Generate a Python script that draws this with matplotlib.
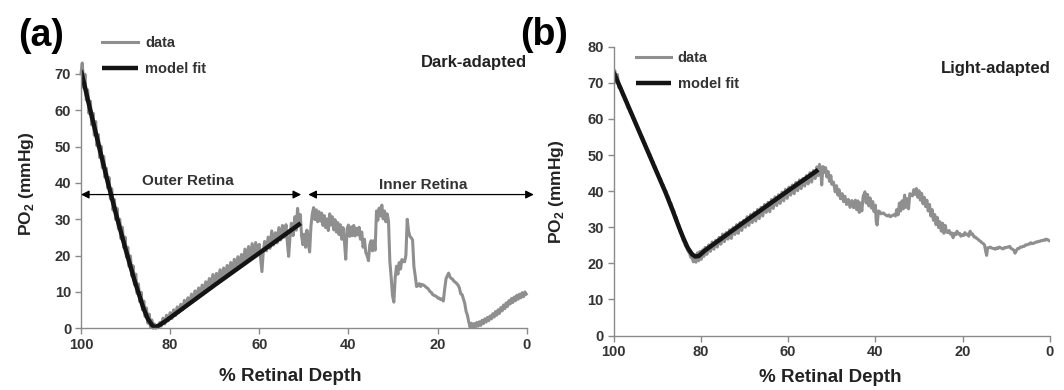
import numpy as np
import matplotlib
matplotlib.use('Agg')
import matplotlib.pyplot as plt

plt.rcParams['font.family'] = ['Liberation Sans', 'DejaVu Sans']
plt.rcParams['font.weight'] = 'bold'
plt.rcParams['mathtext.fontset'] = 'custom'
plt.rcParams['mathtext.bf'] = 'Liberation Sans:bold'
plt.rcParams['mathtext.rm'] = 'Liberation Sans:bold'

# ---- panel (a): dark-adapted ----
a_depth = [100.0, 99.7, 99.4, 99.1, 98.8, 98.5, 98.2, 97.9, 97.6, 97.3,
           97.0, 96.7, 96.4, 96.1, 95.8, 95.5, 95.2, 94.9, 94.6, 94.3,
           94.0, 93.7, 93.4, 93.1, 92.8, 92.5, 92.2, 91.9, 91.6, 91.3,
           91.0, 90.7, 90.4, 90.1, 89.8, 89.5, 89.2, 88.9, 88.6, 88.3,
           88.0, 87.7, 87.4, 87.1, 86.8, 86.5, 86.2, 85.9, 85.6, 85.3,
           85.0, 84.7, 84.4, 84.1, 83.8, 83.5, 83.2, 82.9, 82.6, 82.3,
           82.0, 81.6, 81.2, 80.8, 80.4, 80.0, 79.6, 79.2, 78.8, 78.4,
           78.0, 77.6, 77.2, 76.8, 76.4, 76.0, 75.6, 75.2, 74.8, 74.4,
           74.0, 73.6, 73.2, 72.8, 72.4, 72.0, 71.6, 71.2, 70.8, 70.4,
           70.0, 69.6, 69.2, 68.8, 68.4, 68.0, 67.6, 67.2, 66.8, 66.4,
           66.0, 65.6, 65.2, 64.8, 64.4, 64.0, 63.6, 63.2, 62.8, 62.4,
           62.0, 61.6, 61.2, 60.8, 60.4, 60.0, 59.7, 59.4, 59.1, 58.8,
           58.4, 58.0, 57.6, 57.2, 56.8, 56.4, 56.0, 55.6, 55.2, 54.8,
           54.4, 54.0, 53.7, 53.4, 53.1, 52.8, 52.4, 52.0, 51.7, 51.4,
           51.1, 50.8, 50.5, 50.2, 49.9, 49.6, 49.3, 49.0, 48.7, 48.4,
           48.1, 47.8, 47.5, 47.2, 46.9, 46.6, 46.3, 46.0, 45.7, 45.4,
           45.1, 44.8, 44.5, 44.2, 43.9, 43.6, 43.3, 43.0, 42.7, 42.4,
           42.1, 41.8, 41.5, 41.2, 40.9, 40.6, 40.3, 40.0, 39.7, 39.4,
           39.1, 38.8, 38.5, 38.2, 37.9, 37.6, 37.3, 37.0, 36.7, 36.4,
           36.1, 35.8, 35.5, 35.2, 34.9, 34.6, 34.3, 34.0, 33.7, 33.4,
           33.1, 32.8, 32.5, 32.2, 31.9, 31.6, 31.3, 31.0, 30.7, 30.4,
           30.1, 29.8, 29.5, 29.2, 28.9, 28.6, 28.3, 28.0, 27.7, 27.4,
           27.1, 26.8, 26.5, 26.2, 25.9, 25.6, 25.3, 25.0, 24.7, 24.4,
           24.1, 23.8, 23.5, 23.2, 22.9, 22.6, 22.3, 22.0, 21.7, 21.4,
           21.1, 20.8, 20.5, 20.2, 19.9, 19.6, 19.3, 19.0, 18.7, 18.4,
           18.1, 17.8, 17.5, 17.2, 16.9, 16.6, 16.3, 16.0, 15.7, 15.4,
           15.1, 14.8, 14.5, 14.2, 13.9, 13.6, 13.3, 13.0, 12.7, 12.4,
           12.1, 11.8, 11.5, 11.2, 10.9, 10.6, 10.3, 10.0, 9.7, 9.4,
           9.1, 8.8, 8.5, 8.2, 7.9, 7.6, 7.3, 7.0, 6.7, 6.4,
           6.1, 5.8, 5.5, 5.2, 4.9, 4.6, 4.3, 4.0, 3.7, 3.4,
           3.1, 2.8, 2.5, 2.2, 1.9, 1.6, 1.3, 1.0, 0.7, 0.4,
           0.1]
a_po2 = [70.0, 73.0, 66.2, 69.9, 62.8, 65.6, 59.1, 62.5, 56.0, 59.2,
         53.1, 56.9, 50.2, 53.3, 47.0, 50.1, 44.2, 47.3, 41.5, 44.0,
         38.6, 41.5, 35.6, 38.4, 32.5, 35.4, 29.9, 33.0, 27.4, 30.0,
         24.6, 27.8, 22.2, 25.1, 19.6, 22.3, 17.0, 19.9, 14.4, 17.2,
         12.0, 14.9, 9.6, 12.2, 7.3, 9.9, 5.1, 7.5, 3.2, 5.6,
         1.4, 3.9, 0.3, 2.3, 0.0, 1.2, 0.0, 0.8, 0.3, 1.6,
         0.6, 2.8, 1.2, 3.6, 2.1, 4.3, 2.7, 5.1, 3.5, 5.9,
         4.4, 6.6, 5.1, 7.7, 6.0, 8.4, 6.8, 9.4, 7.7, 10.3,
         8.5, 11.1, 9.4, 11.9, 10.3, 12.8, 11.1, 13.7, 11.9, 14.8,
         12.4, 15.1, 13.3, 16.1, 13.7, 16.6, 14.5, 17.3, 15.2, 18.1,
         15.9, 19.0, 16.5, 19.7, 17.1, 20.3, 17.9, 21.8, 18.6, 22.5,
         19.1, 23.3, 19.8, 23.6, 20.5, 23.1, 19.3, 15.6, 21.0, 23.9,
         21.3, 25.1, 22.0, 26.8, 22.9, 26.3, 23.5, 27.7, 24.3, 28.3,
         25.1, 28.5, 23.7, 19.8, 25.1, 28.9, 25.5, 30.7, 27.0, 33.0,
         29.0, 31.3, 25.5, 23.0, 25.9, 22.3, 27.0, 23.5, 21.0, 28.1,
         31.5, 33.2, 29.9, 32.6, 29.3, 32.1, 29.5, 31.7, 28.3, 31.0,
         27.7, 30.1, 26.9, 31.5, 28.4, 30.7, 27.1, 29.9, 26.5, 29.1,
         25.8, 28.5, 24.5, 27.7, 24.1, 19.0, 27.3, 28.4, 25.3, 27.9,
         25.5, 28.3, 25.4, 27.5, 25.7, 27.8, 24.5, 26.5, 22.3, 24.5,
         20.9, 20.0, 18.6, 23.0, 24.1, 21.3, 24.1, 21.5, 32.3, 29.7,
         33.1, 30.9, 33.9, 30.1, 32.3, 29.3, 31.5, 29.5, 18.4, 14.0,
         9.0, 7.2, 14.0, 17.1, 14.9, 18.1, 16.3, 18.9, 18.4, 18.3,
         20.1, 30.0, 26.7, 25.3, 24.9, 24.3, 17.0, 14.4, 11.5, 11.7,
         12.3, 11.5, 12.1, 11.9, 11.7, 11.3, 11.1, 10.7, 10.1, 9.9,
         9.3, 9.1, 8.9, 8.7, 8.3, 8.3, 7.9, 8.1, 7.5, 10.8,
         13.6, 14.5, 15.2, 14.1, 13.7, 13.5, 12.9, 12.7, 12.3, 11.9,
         11.1, 9.5, 9.3, 8.1, 6.9, 4.7, 3.6, 1.8, 0.3, 1.4,
         0.2, 1.3, 0.3, 1.6, 0.6, 1.8, 0.8, 2.2, 1.3, 2.6,
         1.7, 3.0, 2.1, 3.4, 2.6, 4.0, 3.1, 4.6, 3.6, 5.1,
         4.1, 5.7, 4.8, 6.4, 5.4, 7.0, 6.0, 7.6, 6.7, 8.2,
         7.1, 8.6, 7.6, 9.1, 8.0, 9.4, 8.4, 9.8, 8.7, 10.0,
         9.4]
a_fit_depth = [100, 98, 96, 94, 92, 90, 88, 86, 85, 84, 83.4, 82.5, 81, 70, 60, 50.7]
a_fit_po2 = [71.0, 60.5, 50.3, 40.3, 30.8, 21.8, 13.2, 5.6, 2.6, 0.8, 0.3, 0.8, 2.0, 11.9, 20.7, 28.9]

# ---- panel (b): light-adapted ----
b_depth = [100.0, 99.7, 99.4, 99.1, 98.8, 98.5, 98.2, 97.9, 97.6, 97.3,
           97.0, 96.7, 96.4, 96.1, 95.8, 95.5, 95.2, 94.9, 94.6, 94.3,
           94.0, 93.7, 93.4, 93.1, 92.8, 92.5, 92.2, 91.9, 91.6, 91.3,
           91.0, 90.7, 90.4, 90.1, 89.8, 89.5, 89.2, 88.9, 88.6, 88.3,
           88.0, 87.7, 87.4, 87.1, 86.8, 86.5, 86.2, 85.9, 85.6, 85.3,
           85.0, 84.7, 84.4, 84.1, 83.8, 83.5, 83.2, 82.9, 82.6, 82.3,
           82.0, 81.7, 81.4, 81.1, 80.8, 80.5, 80.2, 79.9, 79.6, 79.3,
           79.0, 78.6, 78.2, 77.8, 77.4, 77.0, 76.6, 76.2, 75.8, 75.4,
           75.0, 74.6, 74.2, 73.8, 73.4, 73.0, 72.6, 72.2, 71.8, 71.4,
           71.0, 70.6, 70.2, 69.8, 69.4, 69.0, 68.6, 68.2, 67.8, 67.4,
           67.0, 66.6, 66.2, 65.8, 65.4, 65.0, 64.6, 64.2, 63.8, 63.4,
           63.0, 62.6, 62.2, 61.8, 61.4, 61.0, 60.6, 60.2, 59.8, 59.4,
           59.0, 58.6, 58.2, 57.8, 57.4, 57.0, 56.6, 56.2, 55.8, 55.4,
           55.0, 54.6, 54.2, 53.8, 53.4, 53.1, 52.8, 52.5, 52.3, 52.0,
           51.7, 51.4, 51.1, 50.8, 50.5, 50.2, 50.0, 49.6, 49.2, 48.9,
           48.6, 48.3, 48.0, 47.6, 47.3, 47.0, 46.6, 46.2, 45.8, 45.4,
           45.0, 44.6, 44.3, 44.0, 43.7, 43.4, 43.1, 42.8, 42.4, 42.1,
           41.8, 41.5, 41.2, 40.9, 40.6, 40.3, 40.0, 39.8, 39.6, 39.3,
           39.0, 38.7, 38.4, 38.1, 37.8, 37.5, 37.2, 36.9, 36.6, 36.3,
           36.0, 35.7, 35.4, 35.1, 34.8, 34.5, 34.2, 33.9, 33.6, 33.3,
           33.0, 32.7, 32.4, 32.1, 31.8, 31.5, 31.2, 30.9, 30.6, 30.3,
           30.0, 29.7, 29.4, 29.1, 28.8, 28.5, 28.2, 27.9, 27.6, 27.3,
           27.0, 26.7, 26.4, 26.1, 25.8, 25.5, 25.2, 24.9, 24.6, 24.3,
           24.0, 23.7, 23.4, 23.1, 22.8, 22.5, 22.2, 21.9, 21.6, 21.3,
           21.0, 20.7, 20.4, 20.1, 19.8, 19.5, 19.2, 18.9, 18.6, 18.3,
           18.0, 17.7, 17.4, 17.1, 16.8, 16.5, 16.2, 15.9, 15.6, 15.3,
           15.0, 14.7, 14.5, 14.3, 14.0, 13.7, 13.4, 13.1, 12.8, 12.5,
           12.2, 11.9, 11.6, 11.3, 11.0, 10.7, 10.4, 10.1, 9.8, 9.5,
           9.2, 8.9, 8.6, 8.3, 8.0, 7.7, 7.4, 7.1, 6.8, 6.5,
           6.2, 5.9, 5.6, 5.3, 5.0, 4.7, 4.4, 4.1, 3.8, 3.5,
           3.2, 2.9, 2.6, 2.3, 2.0, 1.7, 1.4, 1.1, 0.8, 0.5,
           0.2]
b_po2 = [72.2, 73.4, 70.1, 72.3, 68.7, 68.9, 68.4, 66.6, 66.5, 65.0,
         64.9, 63.1, 62.8, 61.7, 61.5, 60.1, 59.9, 58.3, 58.0, 56.8,
         56.5, 55.1, 54.9, 53.4, 53.3, 51.8, 51.5, 50.1, 50.1, 48.6,
         48.3, 46.7, 46.7, 45.1, 44.9, 43.5, 43.4, 41.8, 41.7, 40.3,
         40.1, 38.7, 38.4, 37.0, 36.6, 35.3, 34.7, 33.3, 32.7, 31.1,
         30.5, 28.5, 28.1, 26.5, 25.9, 24.8, 24.4, 23.3, 22.9, 21.7,
         21.5, 20.4, 21.8, 20.3, 22.9, 20.7, 23.3, 21.1, 23.7, 21.9,
         24.4, 22.5, 25.1, 23.3, 25.9, 23.9, 26.4, 24.5, 27.2, 25.3,
         28.1, 26.0, 28.5, 26.7, 29.3, 26.9, 29.9, 28.0, 30.7, 28.3,
         31.3, 29.1, 31.9, 30.0, 32.9, 30.5, 33.5, 31.3, 34.1, 31.7,
         34.9, 32.4, 35.5, 33.1, 36.3, 34.1, 36.9, 34.3, 37.7, 35.2,
         38.4, 36.0, 39.0, 36.6, 39.7, 37.3, 40.5, 38.0, 41.1, 38.9,
         41.7, 39.3, 42.4, 40.1, 43.1, 40.7, 43.5, 41.4, 44.3, 42.0,
         45.1, 42.5, 45.7, 43.5, 46.7, 44.3, 47.4, 45.6, 41.7, 46.8,
         45.2, 46.5, 43.9, 45.4, 42.7, 44.3, 41.9, 42.5, 39.8, 41.5,
         38.9, 40.4, 37.9, 39.3, 37.1, 38.6, 36.3, 37.7, 35.5, 37.4,
         35.4, 37.5, 34.9, 37.3, 34.1, 36.7, 34.5, 38.5, 39.8, 36.7,
         39.1, 35.9, 38.1, 35.3, 37.1, 34.3, 36.1, 31.5, 30.6, 34.5,
         34.3, 33.7, 33.9, 33.9, 33.5, 33.3, 33.1, 33.4, 32.9, 33.1,
         33.3, 33.5, 33.1, 34.9, 33.4, 36.7, 34.5, 37.3, 35.1, 38.9,
         35.5, 37.9, 35.1, 39.3, 38.9, 38.7, 40.4, 39.1, 40.7, 38.3,
         40.1, 37.5, 39.4, 36.5, 38.3, 35.7, 37.5, 34.5, 36.3, 33.1,
         34.9, 31.9, 33.5, 30.7, 32.7, 29.9, 31.5, 28.9, 31.1, 28.3,
         30.5, 28.7, 28.5, 29.1, 28.1, 28.4, 27.1, 28.3, 27.9, 28.9,
         28.1, 28.3, 27.5, 27.9, 27.7, 28.5, 27.9, 28.1, 27.5, 28.9,
         28.1, 28.1, 27.3, 27.3, 26.9, 26.7, 26.3, 26.1, 25.7, 25.5,
         25.1, 23.2, 22.2, 24.3, 24.3, 24.5, 24.3, 24.1, 24.1, 23.9,
         24.3, 24.1, 24.5, 24.3, 24.1, 24.0, 24.4, 24.3, 24.5, 24.5,
         24.7, 24.1, 23.9, 23.7, 22.8, 23.5, 24.1, 24.1, 24.5, 24.5,
         24.7, 24.7, 25.1, 25.1, 25.3, 25.3, 25.7, 25.5, 25.5, 25.7,
         25.9, 25.9, 26.1, 26.1, 26.3, 26.3, 26.5, 26.4, 26.7, 26.5,
         26.3]
b_fit_depth = [100, 96, 92, 88, 86.5, 85, 84, 83, 82, 81.3, 80.5, 79, 70, 60, 53.1]
b_fit_po2 = [73.0, 61.8, 50.6, 39.4, 34.8, 30.0, 27.0, 24.3, 22.5, 21.9, 22.0, 23.6, 31.5, 40.1, 45.9]

x_ticks = [100, 80, 60, 40, 20, 0]
a_y_ticks = [0, 10, 20, 30, 40, 50, 60, 70]
b_y_ticks = [0, 10, 20, 30, 40, 50, 60, 70, 80]

data_color = '#8f8f8f'
fit_color = '#141414'
spine_color = '#8a8a8a'
label_color = '#333333'

fig = plt.figure(figsize=(10.64, 3.9), dpi=100)
ax_a = fig.add_axes([0.0761, 0.1582, 0.4189, 0.6803])
ax_b = fig.add_axes([0.5766, 0.1397, 0.4102, 0.7405])


def style_axis(ax, yticks, ymax):
    ax.set_xlim(100, 0)
    ax.set_ylim(0, ymax)
    ax.set_xticks(x_ticks)
    ax.set_yticks(yticks)
    for side in ['top', 'right']:
        ax.spines[side].set_visible(False)
    for side in ['left', 'bottom']:
        ax.spines[side].set_color(spine_color)
        ax.spines[side].set_linewidth(1.0)
    ax.tick_params(direction='out', length=4, width=1, color=spine_color,
                   labelsize=10.5, labelcolor=label_color, pad=3)
    for lbl in ax.get_xticklabels() + ax.get_yticklabels():
        lbl.set_fontweight('bold')
    ax.set_xlabel('% Retinal Depth', fontsize=13.5, fontweight='bold', color='#222222')
    ax.set_ylabel(r'PO$_\mathbf{2}$ (mmHg)', fontsize=12.5, fontweight='bold', color='#222222')
    ax.xaxis.label.set_verticalalignment('center')
    ax.yaxis.label.set_verticalalignment('center')


# panel (a)
ax_a.plot(a_depth, a_po2, color=data_color, lw=2.2, label='data', clip_on=False)
ax_a.plot(a_fit_depth, a_fit_po2, color=fit_color, lw=3.2, label='model fit',
          solid_capstyle='butt')
style_axis(ax_a, a_y_ticks, 73)
ax_a.xaxis.set_label_coords(0.469, -0.18)
ax_a.yaxis.set_label_coords(-0.123, 0.544)

arrow_kw = dict(arrowstyle='<|-|>', color='black', lw=0.9, mutation_scale=12,
                shrinkA=0, shrinkB=0)
ax_a.annotate('', xy=(100, 36.8), xytext=(50.6, 36.8), arrowprops=arrow_kw,
              annotation_clip=False)
ax_a.annotate('', xy=(49.0, 36.8), xytext=(-1.6, 36.8), arrowprops=arrow_kw,
              annotation_clip=False)
ax_a.text(76.0, 40.6, 'Outer Retina', ha='center', va='center', fontsize=11,
          fontweight='bold', color=label_color)
ax_a.text(23.3, 39.4, 'Inner Retina', ha='center', va='center', fontsize=11,
          fontweight='bold', color=label_color)

leg_a = ax_a.legend(loc='upper left', bbox_to_anchor=(102 / 1064, 1 - 36 / 390),
                    bbox_transform=fig.transFigure, frameon=False, fontsize=10.5,
                    handlelength=2.5, handletextpad=0.45, labelspacing=0.85,
                    borderpad=0, borderaxespad=0)
for t in leg_a.get_texts():
    t.set_color(label_color)

# panel (b)
ax_b.plot(b_depth, b_po2, color=data_color, lw=2.2, label='data')
ax_b.plot(b_fit_depth, b_fit_po2, color=fit_color, lw=3.2, label='model fit',
          solid_capstyle='butt')
style_axis(ax_b, b_y_ticks, 80)
ax_b.xaxis.set_label_coords(0.496, -0.147)
ax_b.yaxis.set_label_coords(-0.131, 0.498)

leg_b = ax_b.legend(loc='upper left', bbox_to_anchor=(636 / 1064, 1 - 51 / 390),
                    bbox_transform=fig.transFigure, frameon=False, fontsize=10.5,
                    handlelength=2.4, handletextpad=0.45, labelspacing=0.85,
                    borderpad=0, borderaxespad=0)
for t in leg_b.get_texts():
    t.set_color(label_color)

# panel titles and letters
fig.text(527 / 1064, 1 - 62 / 390, 'Dark-adapted', ha='right', va='center',
         fontsize=12, fontweight='bold', color='#222222')
fig.text(1051 / 1064, 1 - 69 / 390, 'Light-adapted', ha='right', va='center',
         fontsize=12, fontweight='bold', color='#222222')
fig.text(41 / 1064, 1 - 36 / 390, '(a)', ha='center', va='center',
         fontsize=27, fontweight='bold', color='black')
fig.text(544 / 1064, 1 - 35 / 390, '(b)', ha='center', va='center',
         fontsize=27, fontweight='bold', color='black')

fig.savefig('out.png', dpi=100, facecolor='white')
